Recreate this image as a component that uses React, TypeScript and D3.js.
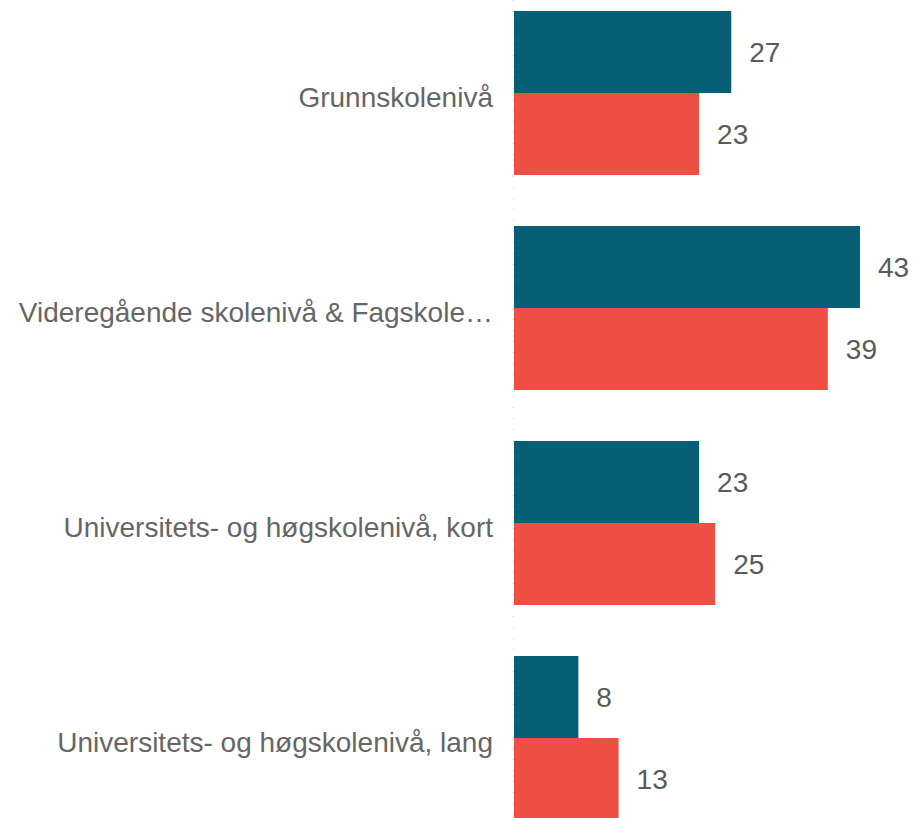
import { useRef, useEffect } from 'react';
import * as d3 from 'd3';

const categories = [
  'Grunnskolenivå',
  'Videregående skolenivå & Fagskole…',
  'Universitets- og høgskolenivå, kort',
  'Universitets- og høgskolenivå, lang',
];
const seriesKeys = ['a', 'b'];
const seriesA = [27, 43, 23, 8];
const seriesB = [23, 39, 25, 13];
const colors = ['#065f75', '#ee4f45'];

export default function App() {
  const ref = useRef<SVGSVGElement>(null);

  useEffect(() => {
    const w = 914, h = 818;
    const x0 = 514;
    const rows = categories.map((c, i) => ({ cat: c, vals: [seriesA[i], seriesB[i]] }));

    // band step 215, bars 82 each, gap 51 between groups
    const inner = 51 / 215;
    const y = d3.scaleBand<string>()
      .domain(categories)
      .range([11 - 25.5, 11 - 25.5 + 4 * 215])
      .paddingInner(inner)
      .paddingOuter(inner / 2);
    const ySub = d3.scaleBand<string>()
      .domain(seriesKeys)
      .range([0, y.bandwidth()]);

    const x = d3.scaleLinear().domain([0, 43]).range([x0, 860]);

    const svg = d3.select(ref.current)
      .attr('width', w).attr('height', h)
      .style('display', 'block')
      .style('font-family', '"Liberation Sans", Arial, sans-serif');
    svg.selectAll('*').remove();

    // dotted baseline
    svg.append('line')
      .attr('x1', x0 - 0.5).attr('x2', x0 - 0.5)
      .attr('y1', 0).attr('y2', h)
      .attr('stroke', '#c8c8c8')
      .attr('stroke-width', 1)
      .attr('stroke-dasharray', '1,10');

    const g = svg.append('g')
      .selectAll('g')
      .data(rows)
      .join('g')
        .attr('transform', d => `translate(0,${y(d.cat)})`);

    g.selectAll('rect')
      .data(d => d.vals.map((v, i) => ({ key: seriesKeys[i], v, i })))
      .join('rect')
        .attr('x', x(0))
        .attr('y', d => ySub(d.key)!)
        .attr('width', d => x(d.v) - x(0))
        .attr('height', ySub.bandwidth())
        .attr('fill', d => colors[d.i]);

    g.selectAll('text.val')
      .data(d => d.vals.map((v, i) => ({ key: seriesKeys[i], v })))
      .join('text')
        .attr('class', 'val')
        .attr('x', d => x(d.v) + 18)
        .attr('y', d => ySub(d.key)! + ySub.bandwidth() / 2)
        .attr('dy', '0.35em')
        .attr('font-size', 28)
        .attr('fill', '#5a5a5a')
        .text(d => d.v);

    g.append('text')
      .attr('x', 493)
      .attr('y', y.bandwidth() / 2 + 4)
      .attr('dy', '0.35em')
      .attr('text-anchor', 'end')
      .attr('font-size', 28)
      .attr('fill', '#666')
      .text(d => d.cat);
  }, []);

  return <svg ref={ref} style={{ position: 'absolute', left: 0, top: 0 }}></svg>;
}
